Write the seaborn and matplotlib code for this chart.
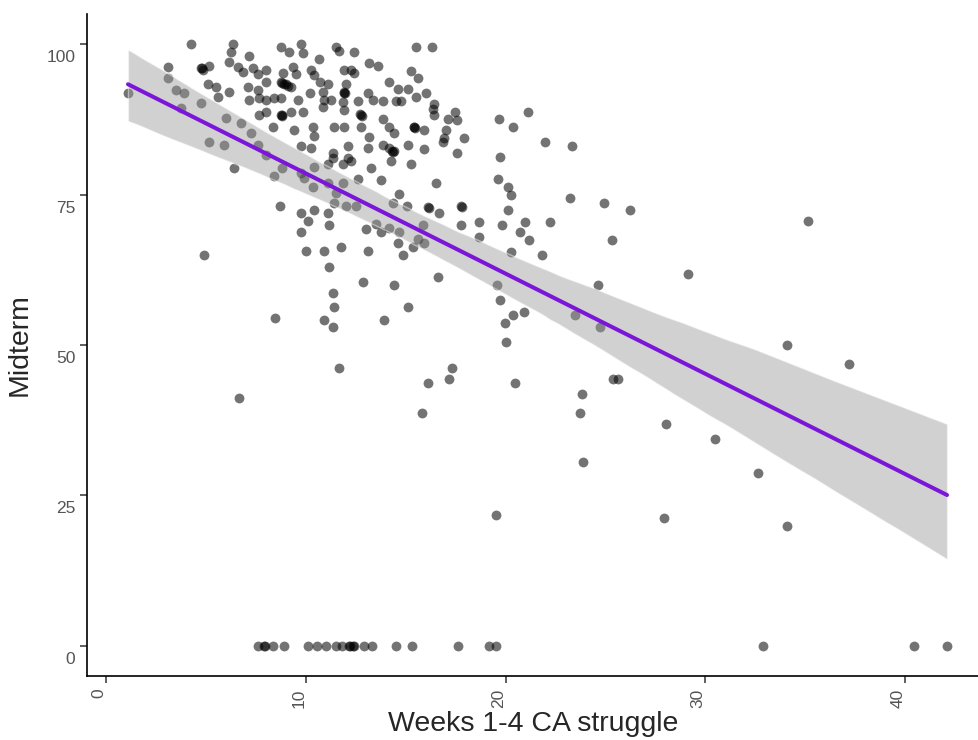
import matplotlib
matplotlib.use("Agg")
import matplotlib.pyplot as plt
import matplotlib.transforms as mtransforms
import numpy as np
import pandas as pd
import seaborn as sns

# Weeks 1-4 CA struggle vs midterm score, read off the reference by region
# dense upper-left cluster (x < 7.7)
struggle_a = [1.1, 3.1, 3.1, 3.5, 3.9, 3.75, 4.75, 4.25, 6.35, 6.25, 7.15, 4.75, 4.85,
              5.15, 6.15, 6.6, 6.85, 7.35, 7.6, 5.1, 5.5, 6.15, 7.1, 7.6, 5.6, 7.15,
              7.65, 7.65, 6.0, 6.75, 7.25, 5.15, 5.9, 7.6, 4.8]
midterm_a = [91.9, 96.2, 94.4, 92.4, 91.9, 89.4, 90.3, 100.0, 100.0, 98.7, 98.1, 96.1, 95.7,
             96.4, 97.1, 96.2, 95.4, 96.1, 95.1, 93.3, 92.8, 92.1, 92.8, 92.4, 91.3, 90.8,
             91.1, 88.3, 87.8, 86.9, 85.3, 83.8, 83.3, 83.3, 96.0]

# upper cluster, x 8 - 16.5 (dark spots hold a few overlapping students)
struggle_b = [8.75, 9.15, 9.75, 9.85, 10.65, 11.5, 11.65, 12.4, 13.15, 13.6, 15.5, 16.3,
              8.0, 8.0, 8.85, 9.35, 9.5, 8.75, 8.9, 9.0, 9.25, 8.8, 9.1,
              10.25, 10.4, 10.7, 11.1, 11.9, 12.25, 12.4, 12.0,
              13.1, 14.15, 14.6, 15.1, 15.25, 15.6, 16.0,
              8.0, 8.4, 8.75, 9.6, 10.2, 10.85, 10.9, 11.25, 11.9, 11.95, 11.85, 12.6,
              13.35, 13.85, 14.5, 14.75, 15.5, 16.4, 11.9,
              8.75, 8.8, 9.25, 9.85, 10.85, 11.9, 12.75, 12.8, 8.0, 16.4, 16.35, 8.8, 12.7,
              8.35, 9.4, 10.35, 10.4, 11.4, 11.9, 12.75, 13.85, 14.15, 14.4, 15.4, 15.45,
              15.9, 13.15, 15.4,
              12.1, 13.1, 13.85, 14.15, 14.35, 14.3, 15.1, 15.9, 11.35, 11.35, 12.1,
              9.75, 10.25, 8.0, 14.4]
midterm_b = [99.6, 98.7, 100.0, 98.6, 97.6, 99.6, 98.9, 98.7, 96.9, 96.4, 99.6, 99.6,
             95.7, 93.7, 95.2, 96.2, 95.1, 93.7, 93.4, 93.3, 92.9, 93.6, 93.0,
             95.7, 94.9, 93.7, 93.3, 95.7, 95.7, 95.2, 93.3,
             91.9, 93.7, 92.6, 92.6, 95.6, 94.4, 91.9,
             90.8, 91.1, 91.1, 90.8, 91.9, 92.1, 90.8, 90.8, 91.9, 91.8, 90.4, 90.6,
             90.8, 90.6, 90.6, 90.6, 91.3, 90.1, 92.0,
             88.3, 88.1, 88.8, 88.8, 89.6, 89.1, 88.3, 88.1, 88.8, 88.3, 89.3, 88.2, 88.4,
             86.3, 85.8, 86.3, 84.8, 86.3, 86.3, 86.3, 87.6, 86.3, 85.3, 86.3, 86.1,
             85.8, 84.6, 86.2,
             83.1, 82.8, 83.3, 82.8, 82.1, 82.3, 83.3, 82.6, 81.9, 81.1, 81.1,
             83.1, 82.8, 81.6, 82.2]

# right side of the cluster, x 17 - 26
struggle_c = [17.45, 17.1, 17.55, 17.0, 16.9, 16.85, 17.9, 17.55, 19.65, 20.35, 21.1,
              21.95, 23.35, 19.7, 19.6, 20.1, 20.25, 17.75, 17.8, 23.25, 24.95, 26.25,
              20.1, 17.75, 18.65, 19.8, 20.95, 22.25, 18.65, 20.7, 21.15, 25.35, 20.25,
              21.8, 19.55, 24.65, 19.7, 20.9, 20.35, 23.5]
midterm_c = [88.8, 87.6, 87.4, 85.8, 84.4, 83.8, 84.4, 81.9, 87.6, 86.3, 88.8,
             83.8, 83.1, 81.3, 77.6, 76.3, 75.0, 73.1, 73.0, 74.5, 73.6, 72.5,
             72.5, 70.0, 70.5, 70.0, 70.5, 70.5, 68.0, 68.7, 67.5, 67.5, 65.5,
             65.0, 60.0, 60.0, 57.5, 55.5, 55.0, 55.0]

# middle band, midterm 54 - 80
struggle_d = [6.4, 8.4, 8.8, 8.7, 4.9, 8.45, 9.75, 9.9, 10.4, 11.1, 11.85, 12.25, 13.25,
              14.25, 15.25, 11.1, 10.35, 11.85, 12.6, 13.75, 16.5, 11.5, 14.65, 11.4,
              12.0, 12.5, 14.35, 15.05, 16.1, 16.15, 16.65, 10.4, 9.75, 11.1, 10.1,
              11.15, 13.0, 13.5, 13.75, 14.15, 14.65, 15.85, 9.75, 14.6, 15.6, 15.9,
              15.35, 14.85, 11.75, 10.0, 10.9, 13.1, 11.15, 12.85, 14.4, 16.6, 11.35,
              11.4, 15.1, 10.9, 13.9]
midterm_d = [79.5, 78.1, 79.5, 73.1, 65.0, 54.5, 78.6, 77.8, 79.6, 80.0, 80.0, 80.5, 79.5,
             80.5, 80.0, 77.0, 76.3, 77.0, 77.6, 77.5, 77.0, 75.3, 75.1, 73.6,
             73.1, 73.1, 73.6, 73.1, 73.0, 72.8, 72.0, 72.5, 72.0, 72.0, 70.6,
             70.0, 69.3, 70.1, 68.7, 69.5, 68.8, 70.0, 68.8, 67.0, 67.7, 67.0,
             66.3, 65.0, 66.3, 65.7, 65.7, 65.7, 63.0, 60.5, 60.0, 61.3, 58.7,
             56.4, 56.4, 54.2, 54.2]

# scattered low and far-right students
struggle_e = [11.35, 19.95, 24.75, 20.0, 11.65, 17.3, 17.15, 16.1, 20.45, 25.4, 25.65,
              6.65, 23.85, 23.75, 15.8, 23.9, 19.5,
              35.15, 29.15, 34.1, 37.2, 28.05, 30.5, 32.65, 27.95, 34.1]
midterm_e = [53.0, 53.7, 53.0, 50.5, 46.2, 46.2, 44.4, 43.7, 43.7, 44.4, 44.4,
             41.2, 41.9, 38.7, 38.7, 30.6, 21.8,
             70.6, 61.8, 50.0, 46.9, 36.9, 34.4, 28.8, 21.3, 19.9]

# students who scored zero on the midterm
struggle_zero = [7.6, 7.9, 7.95, 8.35, 8.9, 10.1, 10.55, 11.0, 11.5, 11.8, 12.15, 12.2,
                 12.35, 12.4, 12.9, 13.3, 14.5, 15.3, 17.6, 19.15, 19.5, 32.9, 40.45, 42.1]

df = pd.DataFrame({
    "struggle": struggle_a + struggle_b + struggle_c + struggle_d + struggle_e + struggle_zero,
    "midterm": midterm_a + midterm_b + midterm_c + midterm_d + midterm_e
               + [0.0] * len(struggle_zero),
})

sns.set_style("white")
plt.rcParams["font.family"] = ["Liberation Sans", "DejaVu Sans"]

fig = plt.figure(figsize=(9.79, 7.40), dpi=100)
ax = fig.add_axes([0.0889, 0.0865, 0.9111, 0.8945])

sns.regplot(data=df, x="struggle", y="midterm", ax=ax, ci=95, n_boot=1000, seed=1,
            scatter_kws=dict(s=50, color="black", alpha=0.55, linewidths=0),
            line_kws=dict(color="#7b16d9", linewidth=2.9, zorder=4))
# ribbon colour closer to ggplot's grey60 fill
for coll in ax.collections[1:]:
    coll.set_facecolor("#999999")
    coll.set_alpha(0.45)

ax.set_xlim(-0.95, 43.7)
ax.set_ylim(-5, 105)
ax.set_xticks([0, 10, 20, 30, 40])
ax.set_yticks([0, 25, 50, 75, 100])
ax.tick_params(axis="x", labelrotation=90, pad=4)
ax.tick_params(direction="out", length=5, width=1.1, color="#333333",
               labelsize=12.5, labelcolor="#555555", left=True, bottom=True)

# the reference labels sit a little off their ticks
shift_y = mtransforms.ScaledTranslation(0, -0.12, fig.dpi_scale_trans)
shift_x = mtransforms.ScaledTranslation(-0.07, 0, fig.dpi_scale_trans)
for lab in ax.get_yticklabels():
    lab.set_transform(lab.get_transform() + shift_y)
for lab in ax.get_xticklabels():
    lab.set_transform(lab.get_transform() + shift_x)

for side in ("top", "right"):
    ax.spines[side].set_visible(False)
for side in ("left", "bottom"):
    ax.spines[side].set_color("black")
    ax.spines[side].set_linewidth(1.2)

ax.set_xlabel("Weeks 1-4 CA struggle", fontsize=20.5, labelpad=2)
ax.set_ylabel("Midterm", fontsize=20.5, labelpad=10)

plt.savefig("out.png", dpi=100)
plt.close()
